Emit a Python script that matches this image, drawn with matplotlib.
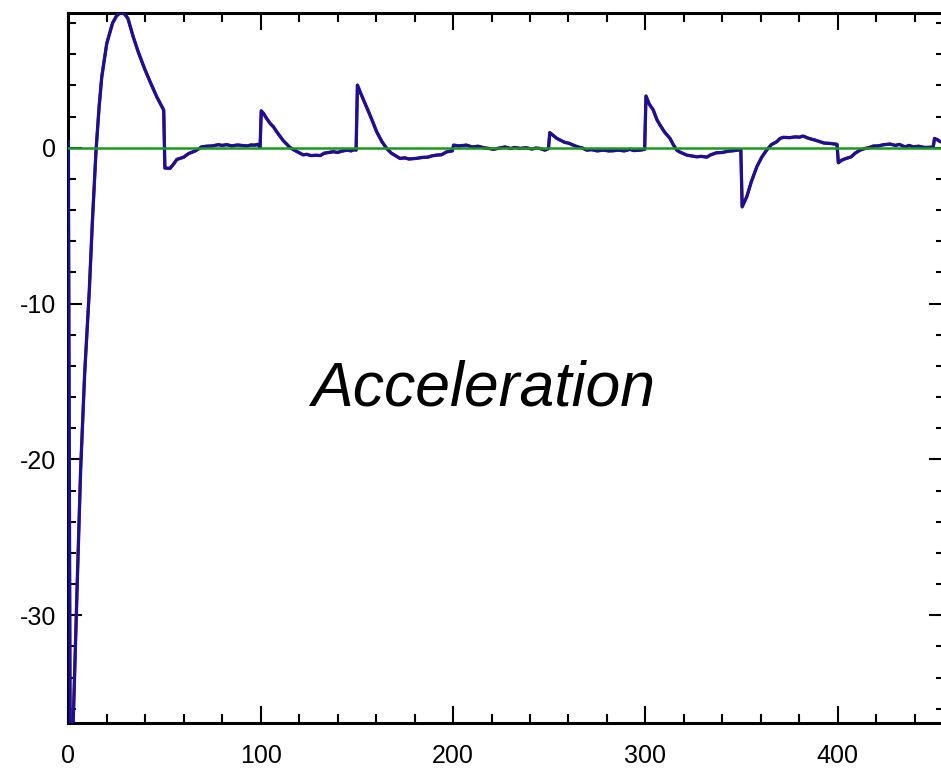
import matplotlib
matplotlib.use("Agg")
import matplotlib.pyplot as plt
from matplotlib.ticker import MultipleLocator

plt.rcParams['axes.unicode_minus'] = False

# time samples and acceleration values
t = [0, 1, 2, 3, 4.7, 6.4, 8.5, 10.9, 12.5, 14.4, 16, 17.4, 20, 23, 25, 26.5, 28, 29.5, 31,
     33.8, 36.5, 39.9, 43, 46, 48, 49.6,
     50.2, 52.9, 55, 56.4, 58, 60, 62.4, 64, 66, 68, 69.3, 72, 75, 78, 80, 82.3, 85, 88, 90,
     93, 95, 97, 98.5, 99.7,
     100.3, 101.5, 103, 105, 106.6, 108.5, 110, 111.8, 113, 115, 117, 119, 122, 124, 126, 129,
     131, 133, 135.5, 137.8, 140, 142, 145, 147, 148.5, 149.6,
     150.3, 152, 155, 157.5, 160.3, 163, 165.5, 168, 170, 172.4, 175, 177, 179, 181, 184, 187,
     189, 191.5, 194, 196.7, 199.6,
     200.3, 203, 207, 210, 213, 216, 219, 221, 224, 227, 230, 232, 235, 238, 241, 243, 245,
     247.8, 249.6,
     250.3, 252, 254, 255.6, 258, 260, 262.5, 265, 267, 269.5, 272, 275, 278, 281, 283.3, 286,
     289, 292, 294, 297.2, 299.6,
     300.3, 302, 304.1, 306, 307.6, 310, 312.8, 314.5, 316.3, 318, 321.5, 324, 326.7, 329,
     331.9, 334, 337, 340, 343, 345.7, 348, 349.6,
     350.3, 352.7, 355, 357.9, 360.5, 363, 365.5, 368.3, 370, 371.7, 375, 378, 380, 382, 385,
     388, 390.8, 393, 396, 398.6, 399.6,
     400.3, 402, 404, 407, 409, 411.6, 414, 416, 418.5, 421, 424, 427.2, 430, 432, 435, 437,
     439.3, 442, 445, 448, 449.6,
     450.3, 452, 453.3, 455]

accel = [0.4, -40, -39, -35, -27.7, -20.7, -14.5, -9.2, -4.8, -0.2, 2.6, 4.56, 6.7, 8.0, 8.45, 8.62, 8.68, 8.55, 8.3,
         7.1, 6.1, 5.0, 4.1, 3.27, 2.8, 2.42,
         -1.3, -1.32, -1.0, -0.75, -0.68, -0.6, -0.38, -0.3, -0.2, -0.05, 0.06, 0.1, 0.12, 0.2, 0.15, 0.2, 0.12, 0.18, 0.15,
         0.12, 0.18, 0.17, 0.22, 0.02,
         2.37, 2.2, 1.9, 1.55, 1.35, 1.0, 0.75, 0.45, 0.3, 0.05, -0.12, -0.25, -0.45, -0.42, -0.5, -0.48,
         -0.5, -0.35, -0.3, -0.25, -0.3, -0.22, -0.15, -0.2, -0.12, -0.15,
         4.02, 3.5, 2.63, 1.9, 1.03, 0.4, -0.04, -0.35, -0.5, -0.68, -0.65, -0.72, -0.7, -0.68, -0.62, -0.6,
         -0.52, -0.47, -0.45, -0.26, -0.2,
         0.17, 0.12, 0.17, 0.05, 0.1, 0.0, -0.05, -0.1, -0.02, 0.05, -0.05, 0.02, -0.04, 0.0, -0.08, -0.02, -0.04,
         -0.15, -0.05,
         0.97, 0.8, 0.6, 0.5, 0.35, 0.3, 0.17, 0.05, 0.0, -0.15, -0.12, -0.2, -0.15, -0.2, -0.19, -0.15,
         -0.2, -0.1, -0.18, -0.15, -0.1,
         3.32, 2.8, 2.42, 1.8, 1.46, 1.0, 0.6, 0.2, -0.15, -0.28, -0.47, -0.52, -0.58, -0.55,
         -0.6, -0.45, -0.32, -0.3, -0.22, -0.19, -0.15, -0.12,
         -3.79, -3.14, -2.2, -1.22, -0.6, -0.15, 0.2, 0.39, 0.6, 0.67, 0.65, 0.7, 0.68, 0.75, 0.6,
         0.5, 0.39, 0.3, 0.28, 0.24, 0.22,
         -0.96, -0.8, -0.7, -0.58, -0.35, -0.15, -0.05, 0.0, 0.11, 0.12, 0.2, 0.24, 0.15, 0.22, 0.05, 0.15,
         0.06, 0.1, 0.02, 0.03, 0.05,
         0.6, 0.5, 0.39, 0.4]

zero_line = [0, 0]
zero_t = [0, 460]

W, H = 941, 769
fig = plt.figure(figsize=(W / 100, H / 100), dpi=100)
left, right = 68.3 / W, 943 / W
bottom, top = 1 - 722.7 / H, 1 - 12.7 / H
ax = fig.add_axes([left, bottom, right - left, top - bottom])

ax.plot(t, accel, color='#a01010', lw=2.4, solid_joinstyle='round', zorder=2)
ax.plot(t, accel, color='#1212a0', lw=2.1, solid_joinstyle='round', zorder=3)
ax.plot(zero_t, zero_line, color='#1a9a1a', lw=1.8, zorder=4)

ax.set_xlim(0, 454.7)
ax.set_ylim(-36.9, 8.67)

ax.xaxis.set_major_locator(MultipleLocator(100))
ax.xaxis.set_minor_locator(MultipleLocator(20))
ax.yaxis.set_major_locator(MultipleLocator(10))
ax.yaxis.set_minor_locator(MultipleLocator(2))

for s in ax.spines.values():
    s.set_linewidth(2.2)

ax.tick_params(axis='both', which='both', direction='in', top=True, right=True, width=1.5)
ax.tick_params(axis='x', which='major', length=12, pad=15)
ax.tick_params(axis='x', which='minor', length=6.7)
ax.tick_params(axis='y', which='major', length=10, pad=9)
ax.tick_params(axis='y', which='minor', length=5.4)

for lab in ax.get_xticklabels() + ax.get_yticklabels():
    lab.set_fontfamily('Liberation Sans')
    lab.set_fontsize(18)

ax.text(0.474, 0.47, 'Acceleration', transform=ax.transAxes, ha='center', va='center',
        fontsize=45, style='italic', family='Liberation Sans')

fig.savefig('out.png', dpi=100)
